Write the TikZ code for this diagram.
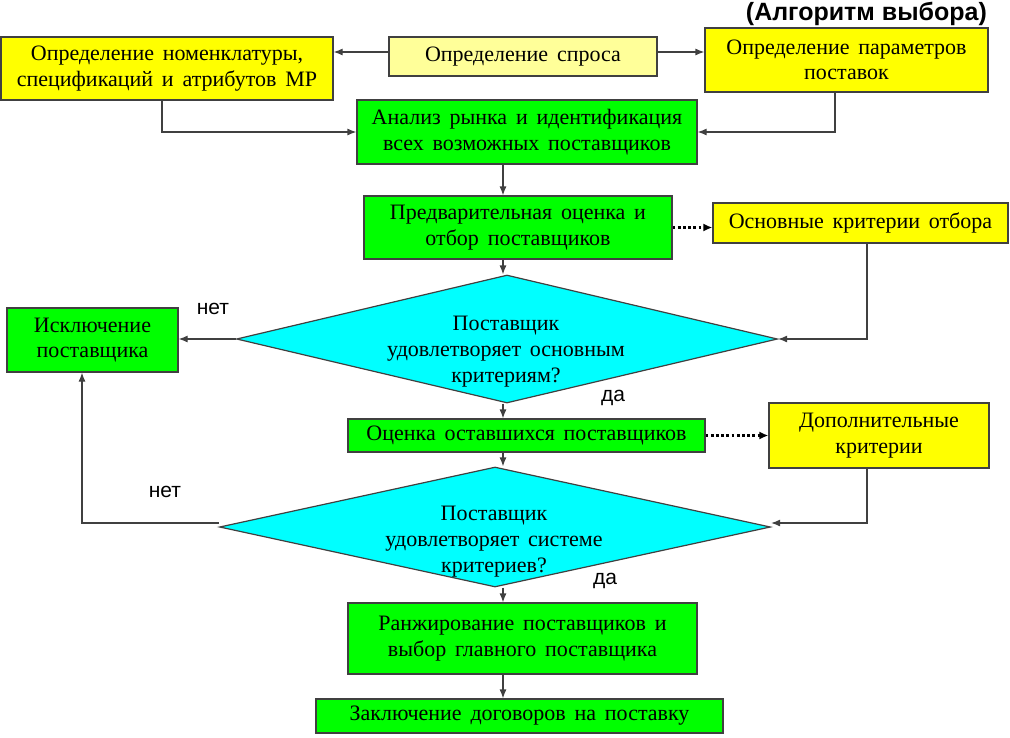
\documentclass[tikz,border=0pt]{standalone}
\usepackage{fontspec}
\setmainfont{Liberation Serif}[WordSpace=1.6]
\newfontfamily\lsans{Liberation Sans}
\usetikzlibrary{shapes.geometric,arrows.meta,calc}
\definecolor{bgray}{HTML}{404040}
\definecolor{gfill}{HTML}{00FF00}
\definecolor{yfill}{HTML}{FFFF00}
\definecolor{lyfill}{HTML}{FFFF99}
\definecolor{cfill}{HTML}{00FFFF}
\tikzset{
 box/.style={draw=bgray, line width=1.2pt, inner sep=0pt, align=center, font=\fontsize{22}{25.5}\selectfont},
 greenbox/.style={box, fill=gfill},
 yellowbox/.style={box, fill=yfill},
 decision/.style={diamond, draw=bgray, line width=1.2pt, fill=cfill, inner sep=0pt},
 dtext/.style={align=center, inner sep=0pt, font=\fontsize{22}{26}\selectfont},
 arr/.style={draw=bgray, line width=1.2pt, -{Latex[length=9pt,width=7pt]}},
 dotarr/.style={draw=black, line width=2.8pt, dash pattern=on 2.8pt off 2.4pt, -{Latex[length=9pt,width=8pt]}},
 yn/.style={font=\lsans\fontsize{21}{24}\selectfont, inner sep=0pt},
}
\begin{document}
\begin{tikzpicture}[x=1pt,y=-1pt]
\useasboundingbox (0,0) rectangle (1010,737);
\coordinate (col) at (503,0);
% title
\node[font=\lsans\bfseries\fontsize{25}{28}\selectfont, inner sep=0pt, anchor=east] (title) at (987,14) {(Алгоритм выбора)};
% boxes
\node[yellowbox, minimum width=332pt, minimum height=63pt] (nom) at (167,68.5) {Определение номенклатуры,\\спецификаций и атрибутов МР};
\node[box, fill=lyfill, minimum width=268pt, minimum height=39pt] (dem) at (523,56.5) {Определение спроса};
\node[yellowbox, minimum width=283pt, minimum height=64pt] (par) at (846.5,60) {Определение параметров\\поставок};
\node[greenbox, minimum width=340pt, minimum height=64pt] (ana) at (527,132) {Анализ рынка и идентификация\\всех возможных поставщиков};
\node[greenbox, minimum width=308pt, minimum height=63pt] (pre) at (518,227.5) {Предварительная оценка и\\отбор поставщиков};
\node[yellowbox, minimum width=295pt, minimum height=40pt] (crit) at (860.5,223) {Основные критерии отбора};
\node[decision, minimum width=541pt, minimum height=128pt] (d1) at (507,339) {};
\node[dtext] (d1t) at (506,352) {Поставщик\\удовлетворяет основным\\критериям?};
\node[greenbox, minimum width=171pt, minimum height=64pt] (excl) at (92.5,340) {Исключение\\поставщика};
\node[greenbox, minimum width=357pt, minimum height=33pt] (ass) at (526.5,435.5) {Оценка оставшихся поставщиков};
\node[yellowbox, minimum width=220pt, minimum height=65pt] (add) at (879,435.5) {Дополнительные\\критерии};
\node[decision, minimum width=551pt, minimum height=120pt] (d2) at (495,527) {};
\node[dtext] (d2t) at (494,542) {Поставщик\\удовлетворяет системе\\критериев?};
\node[greenbox, minimum width=349pt, minimum height=71pt] (rank) at (522.5,638.5) {Ранжирование поставщиков и\\выбор главного поставщика};
\node[greenbox, minimum width=407pt, minimum height=34pt] (fin) at (519.5,716) {Заключение договоров на поставку};
% labels
\node[yn] (no1) at (213,309) {нет};
\node[yn] (yes1) at (613,398) {да};
\node[yn] (no2) at (165,492) {нет};
\node[yn] (yes2) at (605,581) {да};
% connectors
\draw[arr] ([yshift=4.5pt]dem.west) -- ([yshift=4.5pt]dem.west -| nom.east);
\draw[arr] ([yshift=4.5pt]dem.east) -- ([yshift=4.5pt]dem.east -| par.west);
\draw[arr] ([xshift=-5pt]nom.south) |- (ana.west);
\draw[arr] ([xshift=-11.5pt]par.south) |- (ana.east);
\draw[arr] (ana.south -| col) -- (pre.north -| col);
\draw[arr] (pre.south -| col) -- (d1.north -| col);
\draw[dotarr] (pre.east) -- (pre.east -| crit.west);
\draw[arr] ([xshift=6.5pt]crit.south) |- (d1.east);
\draw[arr] (d1.west) -- (d1.west -| excl.east);
\draw[arr] (d1.south -| col) -- (ass.north -| col);
\draw[dotarr] (ass.east) -- (add.west);
\draw[arr] (ass.south -| col) -- (d2.north -| col);
\draw[arr] ([xshift=-12pt]add.south) |- ([yshift=4pt]d2.east);
\draw[arr] ([yshift=4pt]d2.west) -| ([xshift=-10.5pt]excl.south);
\draw[arr] (d2.south -| col) -- (rank.north -| col);
\draw[arr] (rank.south -| col) -- (fin.north -| col);
\end{tikzpicture}
\end{document}
